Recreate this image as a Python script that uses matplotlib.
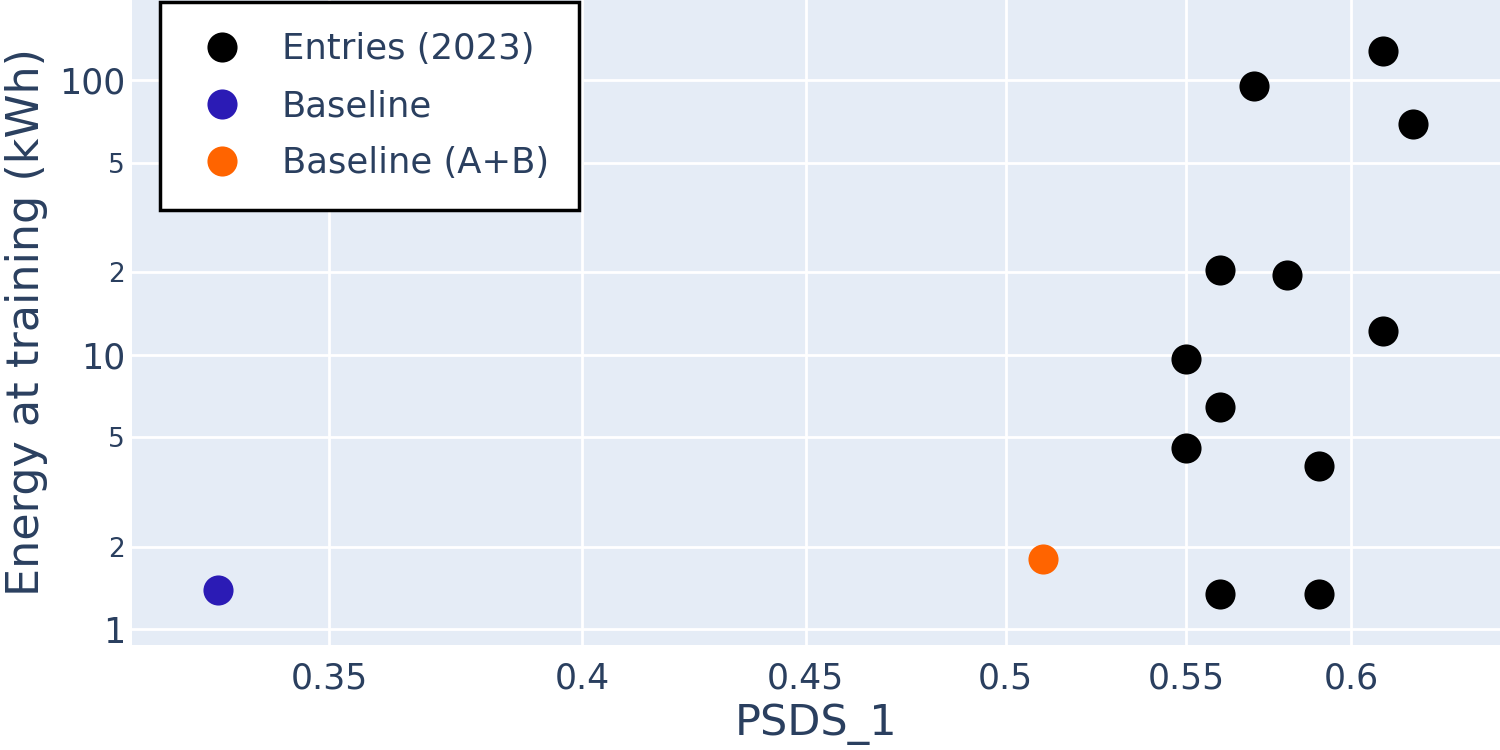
import matplotlib
matplotlib.use("Agg")
import matplotlib.pyplot as plt
from matplotlib.ticker import FixedLocator, NullLocator, FixedFormatter

plt.rcParams['font.family'] = ['DejaVu Sans']

# ---- data ----
entries_x = [0.61, 0.57, 0.62, 0.56, 0.58, 0.61, 0.55, 0.56, 0.55, 0.59, 0.56, 0.59]
entries_y = [128, 95.6, 69.3, 20.3, 19.5, 12.2, 9.67, 6.48, 4.59, 3.92, 1.35, 1.35]
baseline_x = [0.33]
baseline_y = [1.39]
baseline_ab_x = [0.51]
baseline_ab_y = [1.81]

x_ticks = [0.35, 0.4, 0.45, 0.5, 0.55, 0.6]
x_tick_labels = ["0.35", "0.4", "0.45", "0.5", "0.55", "0.6"]
y_ticks = [1, 2, 5, 10, 20, 50, 100]
y_tick_labels = ["1", "2", "5", "10", "2", "5", "100"]
y_major = ["1", "10", "100"]

TXT = '#2a3f5f'
fig = plt.figure(figsize=(15, 7.5), dpi=100)
ax = fig.add_axes([0.088, 0.14, 0.912, 0.86])
ax.set_facecolor('#E5ECF6')

ax.set_xscale('log')
ax.set_yscale('log')
ax.set_xlim(0.3154, 0.649)
ax.set_ylim(0.877, 196)

ax.xaxis.set_major_locator(FixedLocator(x_ticks))
ax.xaxis.set_major_formatter(FixedFormatter(x_tick_labels))
ax.xaxis.set_minor_locator(NullLocator())
ax.yaxis.set_major_locator(FixedLocator(y_ticks))
ax.yaxis.set_major_formatter(FixedFormatter(y_tick_labels))
ax.yaxis.set_minor_locator(NullLocator())

ax.grid(True, color='white', linewidth=2)
ax.set_axisbelow(True)
for s in ax.spines.values():
    s.set_visible(False)
ax.tick_params(axis='both', length=0, colors=TXT, labelsize=25)
ax.tick_params(axis='x', pad=12)
ax.tick_params(axis='y', pad=5)
for lbl in ax.get_yticklabels():
    if lbl.get_text() not in y_major:
        lbl.set_fontsize(19)

ms = 470
ax.scatter(entries_x, entries_y, s=ms, color='black', label='Entries (2023)', zorder=3, linewidths=0)
ax.scatter(baseline_x, baseline_y, s=ms, color='#2b1bb5', label='Baseline', zorder=3, linewidths=0)
ax.scatter(baseline_ab_x, baseline_ab_y, s=ms, color='#ff6400', label='Baseline (A+B)', zorder=3, linewidths=0)

fig.text(0.544, 15/750, 'PSDS_1', fontsize=31, color=TXT, ha='center', va='baseline')
ax.set_ylabel('Energy at training (kWh)', fontsize=32, color=TXT, labelpad=8)

leg = ax.legend(loc='upper left', bbox_to_anchor=(160/1500, 1 - 2/750), bbox_transform=fig.transFigure,
                fontsize=25.5, frameon=True, fancybox=False, framealpha=1, edgecolor='black',
                labelspacing=0.65, handletextpad=0.79, borderpad=0.85, handlelength=1.8,
                borderaxespad=0, markerscale=1.0, scatteryoffsets=[0.5])
leg.get_frame().set_linewidth(2.5)
for t in leg.get_texts():
    t.set_color(TXT)

fig.savefig('out.png', dpi=100)
